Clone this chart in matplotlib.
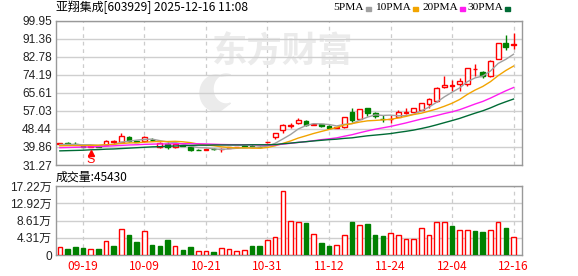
import numpy as np
import matplotlib
matplotlib.use('Agg')
import matplotlib.pyplot as plt
from matplotlib.patches import Rectangle, Polygon

# ---- data ----
dates = ['09-16', '09-17', '09-18', '09-19', '09-22', '09-23', '09-24', '09-25', '09-26', '09-29',
         '09-30', '10-09', '10-10', '10-13', '10-14', '10-15', '10-16', '10-17', '10-20', '10-21',
         '10-22', '10-23', '10-24', '10-27', '10-28', '10-29', '10-30', '10-31', '11-03', '11-04',
         '11-05', '11-06', '11-07', '11-10', '11-11', '11-12', '11-13', '11-14', '11-17', '11-18',
         '11-19', '11-20', '11-21', '11-24', '11-25', '11-26', '11-27', '11-28', '12-01', '12-02',
         '12-03', '12-04', '12-05', '12-08', '12-09', '12-10', '12-11', '12-12', '12-15', '12-16']

opens = [41.2, 41.8, 41.5, 40.6, 40.0, 40.3, 40.8, 42.4, 42.2, 44.6,
         42.6, 42.5, 43.4, 39.8, 41.2, 39.6, 40.8, 39.8, 38.6, 38.4,
         39.0, 38.7, 39.5, 39.6, 40.1, 40.5, 40.0, 42.0, 44.5, 48.0,
         49.9, 51.1, 52.0, 50.5, 50.7, 50.0, 48.9, 49.2, 56.3, 53.2,
         58.2, 55.9, 53.3, 53.1, 54.3, 56.2, 56.3, 57.5, 60.2, 61.6,
         68.3, 69.0, 69.9, 70.0, 76.8, 75.6, 73.8, 81.7, 89.2, 88.5]
highs = [41.9, 42.0, 42.1, 40.9, 40.6, 40.5, 43.0, 43.2, 46.5, 45.0,
         42.9, 45.3, 43.9, 42.0, 42.2, 41.5, 41.0, 40.0, 38.8, 39.0,
         39.2, 39.3, 39.8, 39.9, 40.3, 40.6, 40.2, 42.3, 46.6, 51.0,
         51.2, 53.6, 52.6, 51.4, 50.9, 50.2, 49.4, 54.3, 58.3, 58.0,
         58.4, 56.7, 55.2, 55.0, 57.3, 58.6, 58.5, 60.8, 63.3, 68.6,
         73.6, 71.8, 72.9, 77.6, 79.2, 75.8, 81.1, 89.3, 93.1, 94.2]
lows = [40.8, 41.2, 40.8, 39.8, 39.7, 39.7, 40.6, 41.5, 42.0, 42.3,
        42.0, 42.3, 42.7, 39.5, 39.0, 39.3, 40.2, 38.1, 38.2, 38.3,
        38.6, 37.6, 39.3, 39.4, 39.8, 39.6, 39.4, 41.9, 43.6, 46.5,
        48.8, 51.0, 49.9, 50.4, 49.2, 48.6, 48.7, 49.0, 51.8, 53.0,
        54.6, 53.5, 51.8, 51.2, 54.0, 55.4, 56.0, 57.3, 58.5, 61.3,
        67.7, 66.5, 66.4, 68.9, 73.6, 72.5, 73.3, 81.5, 86.0, 86.5]
closes = [41.6, 41.5, 41.2, 40.0, 40.3, 39.9, 42.7, 42.4, 45.3, 42.8,
          42.3, 44.5, 43.0, 41.8, 39.6, 41.1, 40.4, 38.3, 38.45, 38.9,
          38.8, 38.9, 39.7, 39.8, 40.0, 39.8, 39.6, 42.2, 46.4, 50.3,
          50.4, 52.7, 50.4, 50.9, 49.6, 49.1, 49.3, 54.2, 52.7, 57.8,
          56.2, 54.7, 53.0, 53.3, 56.3, 56.4, 58.2, 60.6, 62.6, 67.9,
          69.2, 69.1, 71.1, 77.4, 76.9, 73.6, 81.0, 89.2, 87.2, 88.9]
pre_close = 41.2

volumes = [19000, 15000, 20000, 17500, 14000, 15000, 35000, 22500, 64000, 50000,
           33000, 59000, 25000, 22500, 37500, 22000, 12500, 20000, 10000, 10000,
           8000, 17000, 15000, 10000, 12500, 22500, 22500, 37500, 45000, 160000,
           85000, 82000, 81000, 52000, 31000, 22500, 25000, 50000, 82000, 75000,
           77000, 50000, 47000, 55000, 49000, 40000, 40000, 67000, 49000, 82000,
           82000, 72000, 62000, 62000, 59000, 57000, 62000, 82000, 67000, 45430]

ma5 = [41.0, 41.1, 41.1, 40.9, 40.92, 40.58, 40.82, 41.06, 42.12, 42.62,
       43.10, 43.46, 43.58, 42.88, 42.24, 42.00, 41.18, 40.24, 39.57, 39.43,
       38.97, 38.67, 38.95, 39.22, 39.44, 39.64, 39.78, 40.28, 41.60, 43.66,
       45.78, 48.40, 50.04, 50.94, 50.80, 50.54, 49.86, 50.62, 50.98, 52.62,
       54.04, 55.12, 54.88, 55.00, 54.70, 54.74, 55.44, 56.96, 58.82, 61.14,
       63.70, 65.88, 67.98, 70.94, 72.74, 73.62, 76.00, 79.62, 81.58, 83.98]
ma10 = [40.4, 40.5, 40.5, 40.5, 40.6, 40.7, 40.9, 41.1, 41.5, 41.77,
        41.84, 42.14, 42.32, 42.50, 42.43, 42.55, 42.32, 41.91, 41.23, 40.84,
        40.49, 39.93, 39.60, 39.40, 39.44, 39.31, 39.23, 39.62, 40.41, 41.55,
        42.71, 44.09, 45.16, 46.27, 47.23, 48.16, 49.13, 50.33, 50.96, 51.71,
        52.29, 52.49, 52.75, 52.99, 53.66, 54.39, 55.28, 55.92, 56.91, 57.92,
        59.22, 60.66, 62.47, 64.88, 66.94, 68.66, 70.94, 73.80, 76.26, 78.36]
ma20 = [39.5, 39.6, 39.7, 39.8, 39.9, 40.0, 40.2, 40.4, 40.6, 40.8,
        40.9, 41.1, 41.2, 41.3, 41.3, 41.4, 41.4, 41.4, 41.35, 41.30,
        41.16, 41.03, 40.96, 40.95, 40.93, 40.93, 40.77, 40.76, 40.82, 41.19,
        41.60, 42.01, 42.38, 42.83, 43.33, 43.73, 44.18, 44.97, 45.69, 46.63,
        47.50, 48.29, 48.96, 49.63, 50.45, 51.28, 52.21, 53.13, 53.94, 54.82,
        55.76, 56.58, 57.61, 58.94, 60.30, 61.53, 63.11, 64.86, 66.59, 68.14]
ma30 = [38.0, 38.1, 38.2, 38.3, 38.5, 38.6, 38.8, 38.9, 39.1, 39.3,
        39.5, 39.7, 39.9, 40.0, 40.2, 40.3, 40.5, 40.6, 40.7, 40.7,
        40.8, 40.8, 40.8, 40.8, 40.8, 40.9, 40.9, 40.9, 41.0, 41.39,
        41.68, 42.05, 42.36, 42.72, 43.03, 43.34, 43.56, 43.95, 44.20, 44.70,
        45.16, 45.50, 45.84, 46.22, 46.78, 47.29, 47.88, 48.62, 49.43, 50.39,
        51.41, 52.41, 53.46, 54.71, 55.94, 57.07, 58.45, 60.02, 61.38, 62.66]

price_labels = ['31.27', '39.86', '48.44', '57.03', '65.61', '74.19', '82.78', '91.36', '99.95']
vol_ticks = [0, 43050, 86100, 129150, 172200]
vol_labels = ['0', '4.31万', '8.61万', '12.92万', '17.22万']
label_idx = [3, 11, 19, 27, 35, 43, 51, 59]

title = '亚翔集成[603929] 2025-12-16 11:08'
ma_names = ['5PMA', '10PMA', '20PMA', '30PMA']
ma_colors = ['#a0a0a0', '#f2a400', '#ff1cf0', '#006b35']

RED = '#ff0000'
GREEN = '#008000'
CJK = ['Noto Sans CJK SC', 'DejaVu Sans']
NUM = ['Liberation Sans', 'Noto Sans CJK SC']

W, H = 578, 276
fig = plt.figure(figsize=(W / 100, H / 100), dpi=100)
ax = fig.add_axes([56 / W, 111 / H, 466 / W, 144.3 / H])
axv = fig.add_axes([56 / W, 21 / H, 466 / W, 69 / H])


def px(xp, yp):
    # pixel position (from top left) -> figure fraction
    return xp / W, 1 - yp / H


n = len(closes)
x = list(range(n))

for a in (ax, axv):
    a.set_xlim(-0.5, 60.1)
    for s in a.spines.values():
        s.set_color('#999999')
        s.set_linewidth(1)
    a.set_xticks([])
    a.tick_params(axis='y', length=0, pad=3, colors='#222222')
    for i in label_idx:
        a.axvline(i, color='#cccccc', lw=0.9, ls=(0, (3, 3)), zorder=0)

# price panel
ax.set_ylim(31.27, 99.95)
ax.set_yticks([float(v) for v in price_labels])
ax.set_yticklabels(price_labels, family=NUM, fontsize=8.6)

# watermark: logo crescent + name, behind the grid
t1 = np.linspace(np.radians(70), np.radians(290), 40)
t2 = t1[::-1]
outer = [px(216 + 16 * np.cos(t), 93 - 18 * np.sin(t)) for t in t1]
inner = [px(226 + 13 * np.cos(t), 89 - 15 * np.sin(t)) for t in t2]
ax.add_patch(Polygon(outer + inner, closed=True, color='#ebebeb',
                     transform=fig.transFigure, zorder=0.1))
ax.text(29, 85, '东方财富', family=CJK, fontweight='bold', fontsize=25.5,
        color='#ebebeb', ha='center', va='center', zorder=0.1)

for v in price_labels:
    ax.axhline(float(v), color='#cfcfcf', lw=1, zorder=0.5)

for i in x:
    o, h, l, c = opens[i], highs[i], lows[i], closes[i]
    up = c >= o
    col = RED if up else GREEN
    top, bot = max(o, c), min(o, c)
    ax.vlines(i, top, h, color=col, lw=1, zorder=3)
    ax.vlines(i, l, bot, color=col, lw=1, zorder=3)
    ax.bar(i, max(top - bot, 0.12), bottom=bot, width=0.62,
           facecolor='white' if up else GREEN, edgecolor=col, lw=1, zorder=3)

for vals, col in zip([ma5, ma10, ma20, ma30], ma_colors):
    ax.plot(x, vals, color=col, lw=1, zorder=4)

# S marker under the fifth candle
ax.plot(4, 36.8, marker='^', ms=4, color=RED, zorder=5)
ax.text(4, 33.7, 'S', color=RED, fontsize=9, ha='center', va='center',
        family=NUM, zorder=5)

# volume panel
axv.set_ylim(0, 172200)
axv.set_yticks(vol_ticks)
axv.set_yticklabels(vol_labels, family=NUM, fontsize=8.6)
for v in vol_ticks:
    axv.axhline(v, color='#cfcfcf', lw=1, zorder=0)
prev = [pre_close] + closes[:-1]
for i in x:
    up = closes[i] >= prev[i]
    axv.bar(i, volumes[i], width=0.6, facecolor='white' if up else GREEN,
            edgecolor=RED if up else GREEN, lw=1, zorder=3)

for i in label_idx:
    fx = (56 + (i + 0.5) * 466 / 60.6) / W
    fig.text(fx, 1 - 266 / H, dates[i], color=RED,
             family=CJK, fontsize=8.6, ha='center', va='center')

# header texts
fig.text(*px(56, 7.5), title, family=CJK, fontsize=8.6, va='center', ha='left')
fig.text(*px(56, 177), '成交量:%d' % volumes[-1], family=CJK, fontsize=8.6,
         va='center', ha='left')

sq_x = [366, 413, 460, 505]
for name, col, sx in zip(ma_names, ma_colors, sq_x):
    fig.text(*px(sx - 2, 8), name, family=['Liberation Serif'], fontsize=8.2,
             va='center', ha='right')
    fig.patches.append(Rectangle(px(sx, 11), 5 / W, 4 / H, color=col,
                                 transform=fig.transFigure))

fig.savefig('out.png', dpi=100)
